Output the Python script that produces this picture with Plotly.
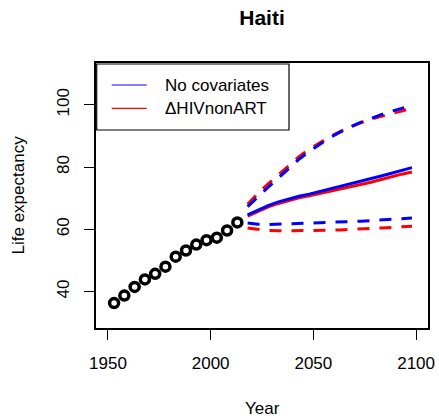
import plotly.graph_objects as go

# observed life expectancy (5-year periods)
obs_years = [1953, 1958, 1963, 1968, 1973, 1978, 1983, 1988, 1993, 1998, 2003, 2008, 2013]
obs_e0 = [36.3, 38.7, 41.5, 43.9, 45.7, 48.0, 51.2, 53.2, 55.1, 56.5, 57.3, 59.6, 62.2]

# projections
proj_years = [2018, 2023, 2028, 2033, 2038, 2043, 2048, 2053, 2058, 2063, 2068, 2073, 2078, 2083, 2088, 2093, 2098]

nocov_median = [64.6, 66.2, 67.6, 68.8, 69.8, 70.6, 71.3, 72.1, 72.9, 73.7, 74.5, 75.3, 76.2, 77.1, 78.0, 78.9, 79.8]
nocov_upper = [67.3, 70.5, 73.5, 76.5, 79.5, 82.5, 85.0, 87.3, 89.4, 91.2, 92.9, 94.3, 95.6, 96.8, 97.9, 98.9, 99.8]
nocov_lower = [62.0, 61.6, 61.5, 61.6, 61.7, 61.8, 61.9, 62.0, 62.2, 62.3, 62.4, 62.6, 62.8, 63.0, 63.2, 63.4, 63.6]

hiv_median = [64.2, 65.8, 67.2, 68.3, 69.3, 70.1, 70.8, 71.5, 72.2, 72.9, 73.6, 74.3, 75.1, 76.0, 76.9, 77.7, 78.4]
hiv_upper = [68.0, 71.5, 74.6, 77.6, 80.5, 83.3, 85.7, 87.8, 89.7, 91.4, 92.9, 94.2, 95.3, 96.3, 97.2, 98.0, 98.8]
hiv_lower = [60.4, 59.9, 59.6, 59.5, 59.5, 59.5, 59.5, 59.6, 59.7, 59.8, 59.9, 60.1, 60.2, 60.4, 60.6, 60.8, 61.0]

legend_labels = ["No covariates", "\u0394HIVnonART"]
legend_colors = ["#0000FF", "#FF0000"]

FONT = "Liberation Sans, Arial, sans-serif"
DASH = "12px,10px"
W, H = 439, 420
L, R, T, B = 96, 11, 63, 92
PW, PH = W - L - R, H - T - B


def px_x(x):
    return (x - L) / PW


def px_y(y):
    return 1 - (y - T) / PH


fig = go.Figure()

# red first so blue sits on top
for color, med, lo, hi in [
    ("#FF0000", hiv_median, hiv_lower, hiv_upper),
    ("#0000FF", nocov_median, nocov_lower, nocov_upper),
]:
    fig.add_trace(go.Scatter(x=proj_years, y=med, mode="lines",
                             line=dict(color=color, width=3)))
    for band in (lo, hi):
        fig.add_trace(go.Scatter(x=proj_years, y=band, mode="lines",
                                 line=dict(color=color, width=3, dash=DASH)))

fig.add_trace(go.Scatter(x=obs_years, y=obs_e0, mode="markers",
                         marker=dict(symbol="circle-open", size=9, color="black",
                                     line=dict(width=3.5, color="black"))))

# legend drawn R style: frame, thin sample lines, labels
fig.add_shape(type="rect", xref="paper", yref="paper",
              x0=px_x(96.7), x1=px_x(289), y0=px_y(130), y1=px_y(64),
              line=dict(color="black", width=1.2), fillcolor="rgba(0,0,0,0)")
annotations = []
for i, (lab, col) in enumerate(zip(legend_labels, legend_colors)):
    ry = 85 + i * 23.3
    fig.add_shape(type="line", xref="paper", yref="paper",
                  x0=px_x(111.7), x1=px_x(146.7), y0=px_y(ry), y1=px_y(ry),
                  line=dict(color=col, width=1.2))
    annotations.append(dict(text=lab, x=px_x(162.7), y=px_y(ry), xref="paper", yref="paper",
                            xanchor="left", yanchor="middle", showarrow=False,
                            font=dict(size=17)))

annotations += [
    dict(text="Year", x=0.5, xref="paper", y=px_y(408), yref="paper",
         xanchor="center", yanchor="middle", showarrow=False, font=dict(size=17)),
    dict(text="Life expectancy", x=px_x(18), xref="paper", y=0.5, yref="paper",
         xanchor="center", yanchor="middle", textangle=-90, showarrow=False,
         font=dict(size=17)),
]

fig.update_layout(
    width=W, height=H,
    margin=dict(l=L, r=R, t=T, b=B, autoexpand=False),
    plot_bgcolor="white", paper_bgcolor="white",
    font=dict(family=FONT, size=17, color="black"),
    title=dict(text="<b>Haiti</b>", x=0.5, xref="paper", y=1 - 18 / H,
               yref="container", yanchor="middle", xanchor="center",
               font=dict(size=21)),
    showlegend=False,
    annotations=annotations,
)

fig.update_xaxes(range=[1944.2, 2105.8], tickvals=[1950, 2000, 2050, 2100],
                 showgrid=False, zeroline=False, showline=True, mirror=True,
                 linecolor="black", linewidth=1.5, ticks="outside", ticklen=10,
                 tickwidth=1, tickcolor="black", automargin=False,
                 ticklabelstandoff=9)
fig.update_yaxes(range=[28.3, 113.4], tickvals=[40, 60, 80, 100], tickangle=-90,
                 showgrid=False, zeroline=False, showline=True, mirror=True,
                 linecolor="black", linewidth=1.5, ticks="outside", ticklen=10,
                 tickwidth=1, tickcolor="black", automargin=False,
                 ticklabelstandoff=8)

# drop the browser's default 8px body margin so the figure fills the window
fig.write_html("out.html", config={"displayModeBar": False},
               post_script="document.body.style.margin='0';")
